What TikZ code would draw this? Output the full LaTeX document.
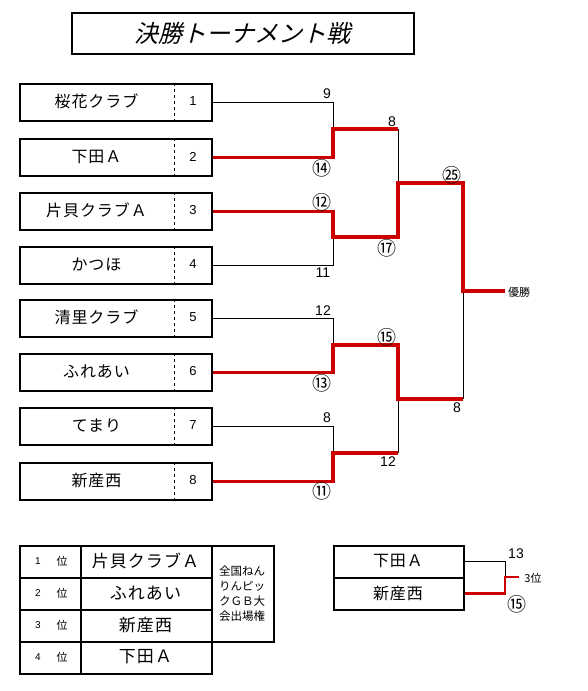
\documentclass[tikz,border=0pt]{standalone}
\usepackage{fontspec}
\setmainfont{Noto Sans CJK JP}
\newfontfamily\numfont{Liberation Sans}
\newfontfamily\titlefont[FakeSlant=0.25]{Noto Sans CJK JP}
\newfontfamily\spacedfont[LetterSpace=6]{Noto Sans CJK JP}
\definecolor{winred}{RGB}{204,0,0}
\tikzset{
  frame/.style={draw=black, line width=1.5pt, rectangle, inner sep=0pt, anchor=north west},
  teambox/.style={frame, minimum width=192pt, minimum height=37pt},
  lose/.style={draw=black, line width=0.9pt},
  win/.style={draw=winred, line width=3.4pt},
  tname/.style={font=\spacedfont\fontsize{16}{18}\selectfont, inner sep=0pt},
  seed/.style={font=\numfont\fontsize{13}{15}\selectfont, inner sep=0pt},
  score/.style={font=\numfont\fontsize{14}{16}\selectfont, inner sep=0pt},
  circ/.style={font=\fontsize{19}{20}\selectfont, inner sep=0pt},
  small/.style={font=\fontsize{11}{14}\selectfont, inner sep=0pt},
}
\begin{document}
\begin{tikzpicture}[x=1pt,y=-1pt]
\useasboundingbox[fill=white] (0,0) rectangle (587,691);
% title
\node[frame, minimum width=342pt, minimum height=41pt] (title) at (71,12) {};
\node[font=\titlefont\fontsize{24}{28}\selectfont, inner sep=0pt] (ttext) at (242,33) {決勝トーナメント戦};
% team boxes
\foreach \i/\y/\n in {1/83/桜花クラブ,2/138/下田Ａ,3/192/片貝クラブＡ,4/246/かつほ,5/299/清里クラブ,6/353/ふれあい,7/407/てまり,8/462/新産西}{
  \node[teambox] (t\i) at (19,\y) {};
  \draw[dashed, line width=0.7pt] (174,\y) -- (174,\y+37);
  \node[tname] (n\i) at (96.5,\y+18.5) {\n};
  \node[seed] (s\i) at (193,\y+18.5) {\i};
}
% junction coordinates
\coordinate (a1) at (333,129);
\coordinate (a2) at (333,237);
\coordinate (a3) at (333,345);
\coordinate (a4) at (333,453);
\coordinate (a1r) at (398,129);
\coordinate (a2r) at (398,237);
\coordinate (a3r) at (398,345);
\coordinate (a4r) at (398,453);
\coordinate (b1) at (398,183);
\coordinate (b2) at (398,399);
\coordinate (b1r) at (463,183);
\coordinate (b2r) at (463,399);
\coordinate (c) at (463,291);
\coordinate (cw) at (505,291);
% first round
\draw[lose] (t1.east) -| (a1);
\draw[lose] (t4.east) -| (a2);
\draw[lose] (t5.east) -| (a3);
\draw[lose] (t7.east) -| (a4);
% semis
\draw[lose] (a1r) -- (b1);
\draw[lose] (b2) -- (a4r);
\draw[lose] (c) -- (b2r);
% winners
\draw[win] (t2.east) -| (a1) -- (a1r);
\draw[win] (t3.east) -| (a2) -- (a2r) -- (b1) -- (b1r) -- (c) -- (cw);
\draw[win] (t6.east) -| (a3) -- (a3r) -- (b2) -- (b2r);
\draw[win] (t8.east) -| (a4) -- (a4r);
% scores
\node[score] (sc1) at (327,94) {9};
\node[circ] (sc2) at (322,168) {⑭};
\node[circ] (sc3) at (322,202) {⑫};
\node[score] (sc4) at (323,273) {11};
\node[score] (sc5) at (323,311) {12};
\node[circ] (sc6) at (322,383) {⑬};
\node[score] (sc7) at (327,418) {8};
\node[circ] (sc8) at (322,491) {⑪};
\node[score] (sc9) at (392,122) {8};
\node[circ] (sc10) at (387,248) {⑰};
\node[circ] (sc11) at (387,337) {⑮};
\node[score] (sc12) at (388,462) {12};
\node[circ] (sc13) at (452,175) {㉕};
\node[score] (sc14) at (457,408) {8};
\node[small, anchor=west] (champ) at (508,292) {優勝};
% ranking table
\foreach \r/\y/\n in {1/545/片貝クラブＡ,2/577/ふれあい,3/609/新産西,4/641/下田Ａ}{
  \node[frame, minimum width=61pt, minimum height=32pt] (rl\r) at (19,\y) {};
  \node[frame, minimum width=131pt, minimum height=32pt] (rt\r) at (80,\y) {};
  \node[font=\numfont\fontsize{10}{12}\selectfont, inner sep=0pt] (rn\r) at (38,\y+16) {\r};
  \node[font=\fontsize{11}{12}\selectfont, inner sep=0pt] (ri\r) at (62,\y+16) {位};
  \node[font=\spacedfont\fontsize{17}{19}\selectfont, inner sep=0pt] (rname\r) at (145.5,\y+16) {\n};
}
\node[frame, minimum width=62pt, minimum height=96pt] (qual) at (211,545) {};
\node[font=\fontsize{11.5}{15}\selectfont, align=center, inner sep=0pt] (qtext) at (242,594) {全国ねん\\りんピッ\\クＧＢ大\\会出場権};
% third place match
\node[frame, minimum width=130pt, minimum height=32pt] (p1) at (333,545) {};
\node[frame, minimum width=130pt, minimum height=32pt] (p2) at (333,577) {};
\node[tname] (pn1) at (398,561) {下田Ａ};
\node[tname] (pn2) at (398,593) {新産西};
\coordinate (d) at (505,577);
\coordinate (dw) at (519,577);
\draw[lose] (p1.east) -| (d);
\draw[draw=winred, line width=2.8pt] (p2.east) -| (d) -- (dw);
\node[score] (ps1) at (516,554) {13};
\node[font=\fontsize{11}{13}\selectfont, inner sep=0pt] (third) at (533,578) {3位};
\node[circ] (ps2) at (517,604) {⑮};
\end{tikzpicture}
\end{document}
